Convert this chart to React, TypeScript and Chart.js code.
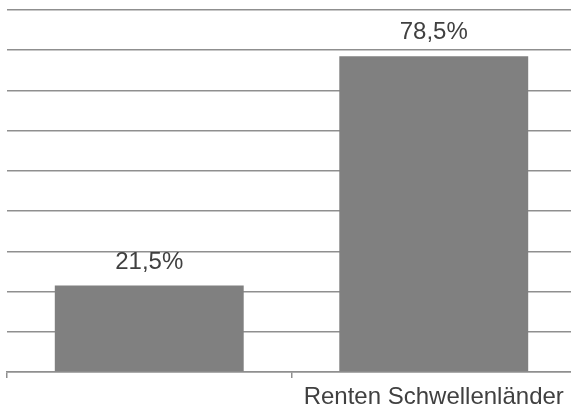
import React, { useEffect, useRef } from "react";
import { Chart, registerables } from "chart.js";

Chart.register(...registerables);

const categories: string[] = ["", "Renten Schwellenländer"];
const values: number[] = [21.5, 78.5];
const valueLabels: string[] = ["21,5%", "78,5%"];
const yMin = 0;
const yMax = 90;
const yStep = 10;

const FONT = "'Liberation Sans', Arial, sans-serif";
const GRID = "#8f8f8f";

const valueLabelPlugin = {
  id: "valueLabels",
  afterDatasetsDraw(chart: any) {
    const ctx = chart.ctx;
    const meta = chart.getDatasetMeta(0);
    ctx.save();
    ctx.font = `24px ${FONT}`;
    ctx.fillStyle = "#404040";
    ctx.textAlign = "center";
    ctx.textBaseline = "alphabetic";
    meta.data.forEach((bar: any, i: number) => {
      ctx.fillText(valueLabels[i], bar.x, bar.y - 17);
    });
    ctx.restore();
  },
};

export default function App() {
  const ref = useRef<HTMLCanvasElement | null>(null);

  useEffect(() => {
    document.body.style.margin = "0";
    const canvas = ref.current;
    if (!canvas) return;
    const chart = new Chart(canvas, {
      type: "bar",
      data: {
        labels: categories,
        datasets: [
          {
            data: values,
            backgroundColor: "#808080",
            borderWidth: 0,
            barPercentage: 0.664,
            categoryPercentage: 1,
          },
        ],
      },
      options: {
        animation: false,
        responsive: false,
        maintainAspectRatio: false,
        layout: { padding: { left: 7, top: 10, right: 0, bottom: 0 } },
        plugins: {
          legend: { display: false },
          tooltip: { enabled: false },
        },
        scales: {
          x: {
            afterFit: (scale: any) => {
              scale.height = 41;
            },
            grid: {
              drawOnChartArea: false,
              drawTicks: true,
              tickLength: 6,
              color: GRID,
              lineWidth: 1.5,
            },
            border: { display: true, color: GRID, width: 1.5 },
            ticks: {
              color: "#404040",
              font: { family: FONT, size: 24 },
              padding: 5,
              maxRotation: 0,
              autoSkip: false,
            },
          },
          y: {
            min: yMin,
            max: yMax,
            ticks: { display: false, stepSize: yStep },
            grid: { drawTicks: false, color: GRID, lineWidth: 1.5 },
            border: { display: false },
          },
        },
      },
      plugins: [valueLabelPlugin],
    });
    return () => chart.destroy();
  }, []);

  return (
    <div style={{ width: 571, height: 413, overflow: "hidden", position: "relative", background: "#fff" }}>
      <canvas ref={ref} width={576} height={413} style={{ display: "block" }} />
    </div>
  );
}
